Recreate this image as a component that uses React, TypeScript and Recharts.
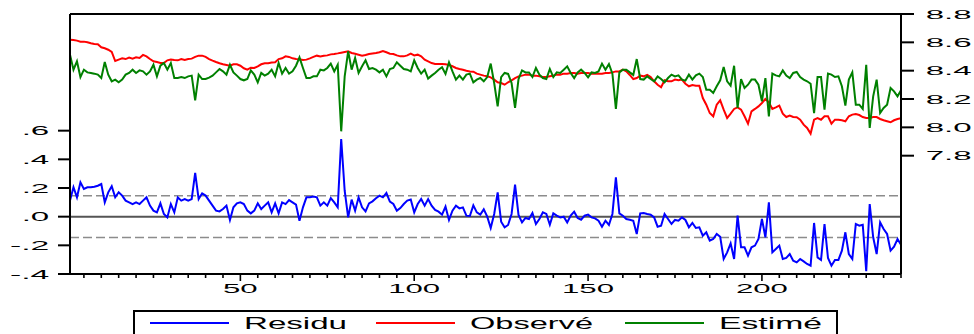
import React from 'react';
import { LineChart, Line, XAxis, YAxis, ReferenceLine, Legend } from 'recharts';

const observe = [
  8.619, 8.617, 8.612, 8.605, 8.605, 8.600, 8.593, 8.588, 8.586, 8.565,
  8.558, 8.548, 8.532, 8.468, 8.478, 8.487, 8.482, 8.492, 8.485, 8.494,
  8.490, 8.511, 8.501, 8.482, 8.466, 8.461, 8.454, 8.454, 8.473, 8.478,
  8.475, 8.473, 8.482, 8.475, 8.482, 8.485, 8.497, 8.506, 8.506, 8.497,
  8.482, 8.471, 8.461, 8.452, 8.445, 8.440, 8.435, 8.445, 8.445, 8.435,
  8.417, 8.407, 8.421, 8.419, 8.431, 8.445, 8.452, 8.452, 8.457, 8.459,
  8.482, 8.487, 8.501, 8.497, 8.487, 8.482, 8.480, 8.475, 8.478, 8.487,
  8.497, 8.506, 8.501, 8.506, 8.508, 8.515, 8.518, 8.522, 8.527, 8.532,
  8.537, 8.525, 8.520, 8.513, 8.506, 8.511, 8.518, 8.522, 8.525, 8.530,
  8.539, 8.530, 8.520, 8.518, 8.508, 8.501, 8.501, 8.508, 8.520, 8.508,
  8.513, 8.501, 8.478, 8.466, 8.454, 8.447, 8.447, 8.447, 8.445, 8.440,
  8.431, 8.419, 8.412, 8.407, 8.400, 8.395, 8.393, 8.379, 8.372, 8.365,
  8.360, 8.353, 8.337, 8.318, 8.313, 8.301, 8.318, 8.332, 8.348, 8.360,
  8.365, 8.372, 8.372, 8.365, 8.365, 8.360, 8.355, 8.355, 8.360, 8.365,
  8.372, 8.372, 8.379, 8.379, 8.384, 8.384, 8.379, 8.384, 8.384, 8.384,
  8.379, 8.379, 8.379, 8.379, 8.384, 8.384, 8.388, 8.395, 8.395, 8.407,
  8.395, 8.370, 8.341, 8.348, 8.365, 8.360, 8.370, 8.355, 8.325, 8.301,
  8.283, 8.332, 8.325, 8.325, 8.337, 8.332, 8.337, 8.308, 8.290, 8.299,
  8.294, 8.294, 8.207, 8.160, 8.101, 8.078, 8.160, 8.191, 8.125, 8.066,
  8.097, 8.130, 8.141, 8.125, 8.078, 8.026, 8.113, 8.130, 8.148, 8.172,
  8.200, 8.177, 8.130, 8.141, 8.153, 8.097, 8.073, 8.083, 8.073, 8.071,
  8.054, 8.019, 7.996, 7.956, 8.054, 8.066, 8.054, 8.078, 8.078, 8.026,
  8.054, 8.054, 8.050, 8.043, 8.078, 8.090, 8.094, 8.087, 8.073, 8.066,
  8.066, 8.073, 8.073, 8.059, 8.050, 8.043, 8.036, 8.050, 8.059, 8.064,
];

const estime = [
  8.513, 8.407, 8.466, 8.355, 8.407, 8.388, 8.384, 8.379, 8.372, 8.348,
  8.461, 8.372, 8.325, 8.337, 8.318, 8.337, 8.372, 8.384, 8.407, 8.384,
  8.402, 8.395, 8.372, 8.395, 8.442, 8.360, 8.435, 8.454, 8.407, 8.454,
  8.348, 8.348, 8.355, 8.348, 8.360, 8.365, 8.191, 8.372, 8.341, 8.341,
  8.351, 8.365, 8.388, 8.412, 8.395, 8.372, 8.442, 8.388, 8.365, 8.341,
  8.332, 8.341, 8.402, 8.372, 8.318, 8.384, 8.365, 8.379, 8.407, 8.360,
  8.454, 8.379, 8.419, 8.379, 8.395, 8.435, 8.494, 8.419, 8.348, 8.348,
  8.360, 8.360, 8.407, 8.402, 8.419, 8.450, 8.395, 8.442, 7.972, 8.360,
  8.537, 8.407, 8.490, 8.384, 8.431, 8.473, 8.412, 8.419, 8.407, 8.388,
  8.407, 8.360, 8.412, 8.419, 8.459, 8.435, 8.412, 8.407, 8.395, 8.473,
  8.419, 8.379, 8.407, 8.344, 8.365, 8.384, 8.407, 8.424, 8.377, 8.459,
  8.395, 8.337, 8.365, 8.337, 8.372, 8.379, 8.318, 8.337, 8.348, 8.325,
  8.355, 8.450, 8.313, 8.148, 8.355, 8.384, 8.377, 8.313, 8.137, 8.341,
  8.402, 8.388, 8.388, 8.355, 8.419, 8.372, 8.348, 8.341, 8.412, 8.355,
  8.388, 8.384, 8.407, 8.431, 8.384, 8.348, 8.388, 8.407, 8.384, 8.353,
  8.388, 8.384, 8.395, 8.450, 8.407, 8.447, 8.379, 8.130, 8.388, 8.407,
  8.407, 8.388, 8.370, 8.482, 8.341, 8.337, 8.360, 8.341, 8.325, 8.360,
  8.341, 8.318, 8.348, 8.372, 8.360, 8.367, 8.337, 8.330, 8.372, 8.337,
  8.367, 8.379, 8.355, 8.266, 8.266, 8.243, 8.290, 8.332, 8.426, 8.325,
  8.294, 8.435, 8.137, 8.341, 8.278, 8.301, 8.337, 8.337, 8.301, 8.184,
  8.348, 8.078, 8.379, 8.367, 8.360, 8.402, 8.365, 8.348, 8.384, 8.391,
  8.355, 8.337, 8.325, 8.308, 8.101, 8.355, 8.355, 8.125, 8.379, 8.372,
  8.355, 8.360, 8.290, 8.153, 8.337, 8.388, 8.160, 8.160, 8.130, 8.442,
  7.996, 8.219, 8.337, 8.101, 8.137, 8.160, 8.278, 8.254, 8.219, 8.261,
];

const residu = [
  0.112, 0.205, 0.135, 0.240, 0.193, 0.205, 0.205, 0.209, 0.216, 0.228,
  0.100, 0.170, 0.212, 0.135, 0.170, 0.147, 0.112, 0.100, 0.088, 0.100,
  0.088, 0.112, 0.135, 0.077, 0.042, 0.030, 0.093, 0.019, -0.005, 0.088,
  0.030, 0.135, 0.112, 0.123, 0.112, 0.123, 0.305, 0.123, 0.163, 0.147,
  0.112, 0.077, 0.042, 0.037, 0.053, 0.077, -0.023, 0.065, 0.093, 0.100,
  0.088, 0.042, 0.023, 0.042, 0.093, 0.053, 0.077, 0.100, 0.030, 0.093,
  0.023, 0.100, 0.088, 0.116, 0.100, 0.084, -0.028, 0.065, 0.135, 0.135,
  0.140, 0.135, 0.077, 0.100, 0.077, 0.130, 0.100, 0.065, 0.542, 0.181,
  -0.005, 0.119, 0.042, 0.135, 0.065, 0.037, 0.093, 0.107, 0.128, 0.147,
  0.135, 0.165, 0.105, 0.088, 0.042, 0.060, 0.088, 0.112, 0.119, 0.030,
  0.088, 0.123, 0.077, 0.123, 0.077, 0.047, 0.035, 0.014, 0.070, -0.023,
  0.042, 0.077, 0.058, 0.065, 0.007, 0.005, 0.079, 0.030, 0.014, 0.051,
  0.000, -0.079, 0.019, 0.170, -0.035, -0.074, -0.058, 0.019, 0.223, 0.012,
  -0.040, -0.009, -0.016, 0.026, -0.051, -0.016, 0.030, 0.019, -0.056, 0.023,
  0.007, -0.005, 0.000, -0.040, 0.007, 0.035, -0.009, -0.021, 0.007, 0.014,
  -0.005, -0.012, -0.028, -0.070, -0.028, -0.058, 0.019, 0.274, 0.023, 0.007,
  -0.016, -0.021, -0.028, -0.121, 0.023, 0.026, 0.019, 0.014, -0.005, -0.070,
  -0.063, 0.019, -0.016, -0.051, -0.023, -0.028, -0.005, -0.023, -0.074, -0.044,
  -0.079, -0.074, -0.133, -0.109, -0.167, -0.156, -0.121, -0.140, -0.295, -0.249,
  -0.186, -0.295, 0.007, -0.214, -0.214, -0.272, -0.214, -0.202, -0.156, -0.016,
  -0.144, 0.100, -0.249, -0.226, -0.202, -0.295, -0.288, -0.261, -0.307, -0.319,
  -0.295, -0.312, -0.330, -0.342, -0.044, -0.284, -0.302, -0.051, -0.288, -0.342,
  -0.302, -0.302, -0.237, -0.109, -0.261, -0.295, -0.051, -0.063, -0.056, -0.381,
  0.088, -0.144, -0.261, -0.040, -0.086, -0.121, -0.237, -0.209, -0.156, -0.195,
];

const xTicks = Array.from({ length: 48 }, (_, i) => (i + 1) * 5);
const xLabeled = [50, 100, 150, 200];
const leftTicks = [-0.4, -0.2, 0, 0.2, 0.4, 0.6];
const leftTickLabels = ['-.4', '-.2', '.0', '.2', '.4', '.6'];
const rightTicks = [7.8, 8.0, 8.2, 8.4, 8.6, 8.8];
const rightTickLabels = ['7.8', '8.0', '8.2', '8.4', '8.6', '8.8'];
const leftDomain = [-0.4, 1.414];
const rightDomain = [6.965, 8.8];
const band = 0.146;
const seriesNames = ['Residu', 'Observé', 'Estimé'];

const data = observe.map((v, i) => ({
  n: i + 1,
  observe: v,
  estime: estime[i],
  residu: residu[i],
}));

const FONT = '"Liberation Sans", Arial, Helvetica, sans-serif';

function LeftTick(props: any) {
  const { x, y, payload } = props;
  const idx = leftTicks.findIndex((t) => Math.abs(t - payload.value) < 1e-9);
  const label = leftTickLabels[idx] ?? '';
  const w = label.length === 2 ? 27.6 : 39.3;
  return (
    <text x={x - 8.7 - w} y={y + 4.7} textLength={w} lengthAdjust="spacingAndGlyphs"
      fontFamily={FONT} fontSize={13} fill="#000">{label}</text>
  );
}

function RightTick(props: any) {
  const { x, y, payload } = props;
  const idx = rightTicks.findIndex((t) => Math.abs(t - payload.value) < 1e-9);
  const label = rightTickLabels[idx] ?? '';
  return (
    <text x={x + 11.7} y={y + 4.7} textLength={46} lengthAdjust="spacingAndGlyphs"
      fontFamily={FONT} fontSize={13.5} fill="#000">{label}</text>
  );
}

function XTick(props: any) {
  const { x, y, payload } = props;
  const v = payload.value;
  const major = xLabeled.includes(v);
  const label = String(v);
  const w = label.length === 2 ? 34.7 : 52;
  return (
    <g>
      <line x1={x} x2={x} y1={y} y2={y + (major ? 7 : 4)} stroke="#000" strokeWidth={1.6} />
      {major && (
        <text x={x - w / 2} y={y + 19} textLength={w} lengthAdjust="spacingAndGlyphs"
          fontFamily={FONT} fontSize={13} fill="#000">{label}</text>
      )}
    </g>
  );
}

function LegendBox() {
  const items = [
    { name: seriesNames[0], color: '#0000ff', lx: 150, tx: 244, tw: 103 },
    { name: seriesNames[1], color: '#ff0000', lx: 376, tx: 470, tw: 123 },
    { name: seriesNames[2], color: '#008000', lx: 625, tx: 719, tw: 103 },
  ];
  return (
    <svg width={974} height={34} style={{ display: 'block' }}>
      <rect x={134} y={11} width={703} height={40} fill="#fff" stroke="#000" strokeWidth={2} />
      {items.map((it) => (
        <g key={it.name}>
          <line x1={it.lx} x2={it.lx + 79} y1={23} y2={23} stroke={it.color} strokeWidth={2} />
          <text x={it.tx} y={28.5} textLength={it.tw} lengthAdjust="spacingAndGlyphs"
            fontFamily={FONT} fontSize={17} fill="#000">{it.name}</text>
        </g>
      ))}
    </svg>
  );
}

export default function App() {
  return (
    <div style={{ position: 'absolute', left: 0, top: 0, width: 974, height: 334, background: '#fff' }}>
      <LineChart width={974} height={334} data={data} margin={{ top: 14, right: 0, bottom: 30, left: 0 }}>
        <XAxis
          dataKey="n"
          type="number"
          domain={[1, 240]}
          ticks={xTicks}
          interval={0}
          height={30}
          tickSize={0}
          tickMargin={0}
          tickLine={false}
          axisLine={{ stroke: '#000', strokeWidth: 2 }}
          tick={(p: any) => <XTick {...p} />}
          allowDataOverflow
        />
        <YAxis
          yAxisId="left"
          orientation="left"
          width={70}
          domain={leftDomain}
          ticks={leftTicks}
          interval={0}
          allowDataOverflow
          tickSize={12}
          tickMargin={0}
          tickLine={{ stroke: '#000', strokeWidth: 2 }}
          axisLine={{ stroke: '#000', strokeWidth: 2 }}
          tick={(p: any) => <LeftTick {...p} />}
        />
        <YAxis
          yAxisId="right"
          orientation="right"
          width={73}
          domain={rightDomain}
          ticks={rightTicks}
          interval={0}
          allowDataOverflow
          tickSize={13}
          tickMargin={0}
          tickLine={{ stroke: '#000', strokeWidth: 2 }}
          axisLine={{ stroke: '#000', strokeWidth: 2 }}
          tick={(p: any) => <RightTick {...p} />}
        />
        <ReferenceLine yAxisId="left" y={band} stroke="#8c8c8c" strokeWidth={1.5} strokeDasharray="9 4" />
        <ReferenceLine yAxisId="left" y={-band} stroke="#8c8c8c" strokeWidth={1.5} strokeDasharray="9 4" />
        <ReferenceLine yAxisId="left" y={0} stroke="#555" strokeWidth={2} />
        <ReferenceLine yAxisId="left" y={leftDomain[1]} stroke="#000" strokeWidth={2} />
        <Line yAxisId="left" type="linear" dataKey="residu" name={seriesNames[0]} stroke="#0000ff"
          strokeWidth={2} dot={false} isAnimationActive={false} />
        <Line yAxisId="right" type="linear" dataKey="observe" name={seriesNames[1]} stroke="#ff0000"
          strokeWidth={2} dot={false} isAnimationActive={false} />
        <Line yAxisId="right" type="linear" dataKey="estime" name={seriesNames[2]} stroke="#008000"
          strokeWidth={2} dot={false} isAnimationActive={false} />
        <Legend
          layout="horizontal"
          verticalAlign="middle"
          align="center"
          content={() => <LegendBox />}
          wrapperStyle={{ position: 'absolute', left: 0, top: 300, width: 974, height: 34, margin: 0, padding: 0 }}
        />
      </LineChart>
    </div>
  );
}
